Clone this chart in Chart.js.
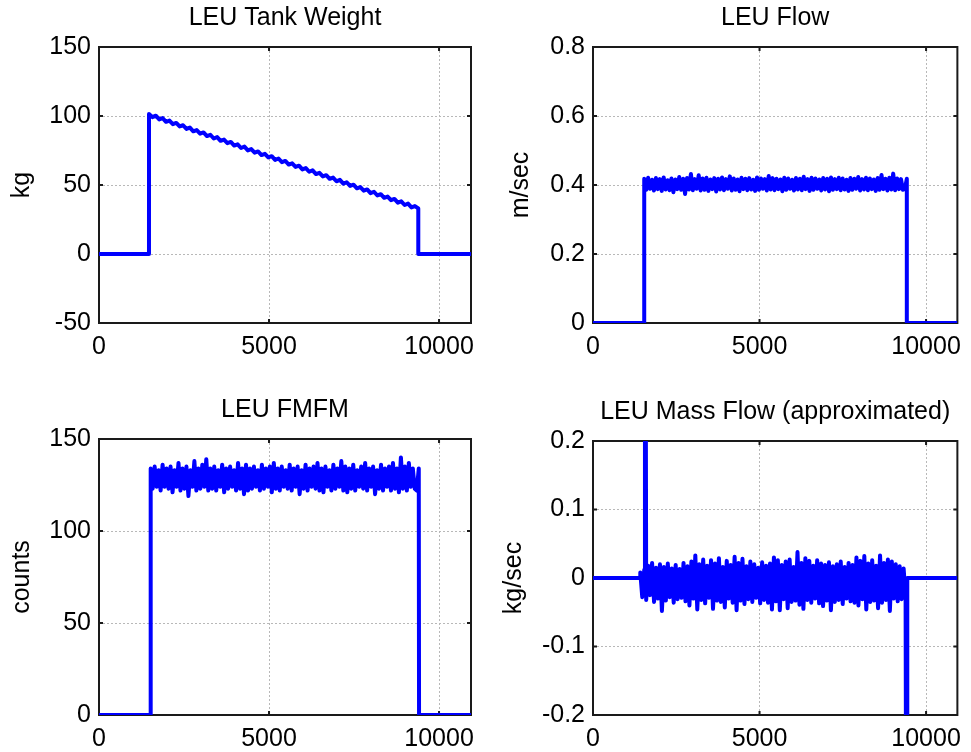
<!DOCTYPE html>
<html>
<head>
<meta charset="utf-8">
<script src="https://cdn.jsdelivr.net/npm/chart.js@4.4.0/dist/chart.umd.min.js"></script>
<style>
  body { margin: 0; background: #fff; }
  canvas { position: absolute; }
</style>
</head>
<body>
<canvas id="tank" width="486" height="376" style="left:0;top:0"></canvas>
<canvas id="flow" width="485" height="376" style="left:486px;top:0"></canvas>
<canvas id="fmfm" width="486" height="376" style="left:0;top:376px"></canvas>
<canvas id="mass" width="485" height="376" style="left:486px;top:376px"></canvas>
<script>
// shared time axis
const xMax = 10940;
const xTicks = [0, 5000, 10000];

// LEU Tank Weight (kg)
const tankTicks = [-50, 0, 50, 100, 150];
const tankOn = 1470, tankOff = 9390, tankStep = 100.25;
const tankWeight = [
  101.5, 99.2, 100.2, 97.5, 98.5, 95.8, 96.7, 94.1, 95.0, 92.4,
  93.3, 90.6, 91.6, 88.9, 89.8, 87.2, 88.1, 85.5, 86.4, 83.7,
  84.7, 82.0, 82.9, 80.3, 81.2, 78.6, 79.5, 76.8, 77.8, 75.1,
  76.0, 73.4, 74.3, 71.7, 72.6, 70.0, 70.9, 68.2, 69.2, 66.5,
  67.4, 64.8, 65.7, 63.1, 64.0, 61.3, 62.3, 59.6, 60.6, 57.9,
  58.8, 56.2, 57.1, 54.5, 55.4, 52.7, 53.7, 51.0, 52.0, 49.3,
  50.2, 47.6, 48.5, 45.9, 46.8, 44.1, 45.1, 42.4, 43.3, 40.7,
  41.6, 39.0, 39.9, 37.2, 38.2, 35.5, 36.5, 33.8, 34.7, 33.0
];

// LEU Flow (m/sec)
const flowTicks = [0, 0.2, 0.4, 0.6, 0.8];
const flowOn = 1538, flowOff = 9422, flowStep = 58.4;
const flow = [
  0.418,0.386,0.421,0.389,0.415,0.384,0.420,0.388,0.417,0.383,
  0.422,0.387,0.414,0.385,0.419,0.379,0.416,0.388,0.423,0.386,
  0.418,0.374,0.420,0.387,0.432,0.385,0.417,0.389,0.428,0.384,
  0.419,0.386,0.421,0.383,0.416,0.388,0.420,0.381,0.418,0.387,
  0.422,0.385,0.417,0.389,0.425,0.384,0.419,0.386,0.416,0.382,
  0.421,0.388,0.418,0.385,0.420,0.387,0.415,0.383,0.422,0.386,
  0.419,0.389,0.417,0.384,0.426,0.387,0.420,0.385,0.418,0.388,
  0.416,0.382,0.421,0.386,0.419,0.389,0.415,0.384,0.420,0.387,
  0.418,0.385,0.424,0.388,0.417,0.383,0.421,0.386,0.419,0.389,
  0.416,0.384,0.420,0.387,0.418,0.382,0.422,0.386,0.417,0.388,
  0.421,0.385,0.419,0.387,0.415,0.383,0.420,0.386,0.418,0.389,
  0.423,0.384,0.417,0.387,0.421,0.385,0.419,0.388,0.416,0.383,
  0.420,0.386,0.429,0.388,0.418,0.384,0.421,0.387,0.433,0.385,
  0.419,0.388,0.417,0.386,0.389,0.418
];

// LEU FMFM (counts)
const fmfmTicks = [0, 50, 100, 150];
const fmfmOn = 1520, fmfmOff = 9412, fmfmStep = 58.4;
const fmfm = [
  134,123,135,124,133,122,136,124,134,123,
  135,121,133,124,137,122,134,123,135,119,
  133,124,138,122,134,123,136,124,139,122,
  134,123,135,122,133,124,136,121,134,123,
  135,124,133,122,137,123,134,120,136,122,
  134,123,135,124,133,122,136,123,134,124,
  135,121,137,123,134,122,135,124,133,123,
  136,122,134,124,135,120,133,123,136,122,
  134,124,135,123,137,122,134,121,135,124,
  133,122,136,123,134,124,138,122,135,121,
  134,123,136,122,133,124,135,123,137,122,
  134,124,135,120,133,123,136,122,134,124,
  135,122,137,123,134,121,140,123,135,122,
  137,124,134,123,122,134
];

// LEU Mass Flow approximated (kg/sec)
const massTicks = [-0.2, -0.1, 0, 0.1, 0.2];
const massOn = 1420, massOff = 9436, massStep = 59;
const massSpikeX = [1560, 9430];
const massSpikeY = [0.9, -0.9];
const massFlow = [
  0.008,-0.028,0.012,-0.032,0.018,-0.025,0.022,-0.035,0.015,-0.030,
  0.020,-0.048,0.016,-0.033,0.021,-0.028,0.014,-0.036,0.019,-0.031,
  0.013,-0.029,0.022,-0.034,0.017,-0.040,0.024,-0.030,0.033,-0.046,
  0.020,-0.032,0.027,-0.037,0.018,-0.029,0.026,-0.045,0.021,-0.033,
  0.029,-0.035,0.016,-0.043,0.025,-0.030,0.019,-0.036,0.031,-0.047,
  0.022,-0.033,0.028,-0.038,0.017,-0.031,0.024,-0.035,0.020,-0.029,
  0.015,-0.037,0.023,-0.032,0.018,-0.036,0.021,-0.046,0.030,-0.034,
  0.026,-0.047,0.019,-0.031,0.024,-0.044,0.027,-0.035,0.016,-0.033,
  0.038,-0.039,0.022,-0.045,0.029,-0.032,0.025,-0.036,0.018,-0.030,
  0.026,-0.037,0.021,-0.041,0.019,-0.033,0.023,-0.047,0.017,-0.035,
  0.020,-0.032,0.024,-0.038,0.016,-0.030,0.022,-0.034,0.019,-0.036,
  0.030,-0.040,0.025,-0.031,0.032,-0.046,0.021,-0.035,0.026,-0.033,
  0.018,-0.044,0.033,-0.036,0.022,-0.032,0.027,-0.048,0.024,-0.030,
  0.020,-0.034,0.017,-0.031,0.014,-0.028
];

Chart.defaults.font.family = "'Liberation Sans', Arial, sans-serif";
Chart.defaults.font.size = 25;
Chart.defaults.color = '#000';

// samples -> {x,y}, with zero before switch-on and after switch-off
function pulse(on, off, step, values) {
  const pts = values.map((v, i) => ({ x: on + i * step, y: v }));
  return [{ x: 0, y: 0 }, { x: on, y: 0 }, ...pts, { x: off, y: 0 }, { x: xMax, y: 0 }];
}

// matlab style box with inward ticks, drawn under the data
const boxPlugin = {
  id: 'box',
  beforeDatasetsDraw(chart) {
    const { ctx, chartArea: a, scales: { x, y } } = chart;
    ctx.save();
    ctx.strokeStyle = '#1a1a1a';
    ctx.lineWidth = 2;
    ctx.strokeRect(a.left, a.top, a.right - a.left, a.bottom - a.top);
    ctx.beginPath();
    x.ticks.forEach(t => {
      const px = x.getPixelForValue(t.value);
      ctx.moveTo(px, a.bottom); ctx.lineTo(px, a.bottom - 4);
      ctx.moveTo(px, a.top); ctx.lineTo(px, a.top + 4);
    });
    y.ticks.forEach(t => {
      const py = y.getPixelForValue(t.value);
      ctx.moveTo(a.left, py); ctx.lineTo(a.left + 4, py);
      ctx.moveTo(a.right, py); ctx.lineTo(a.right - 4, py);
    });
    ctx.stroke();
    ctx.restore();
  }
};

function makeChart(id, opts) {
  const grid = { color: '#b8b8b8', lineWidth: 1, drawTicks: false };
  const border = { display: false, dash: [2, 2] };
  return new Chart(document.getElementById(id), {
    type: 'line',
    data: {
      datasets: [{
        data: opts.points,
        borderColor: '#0000ff',
        borderWidth: 4,
        borderJoinStyle: 'round',
        pointRadius: 0,
        tension: 0,
        clip: opts.clip
      }]
    },
    options: {
      responsive: false,
      animation: false,
      layout: { padding: { left: 0, right: opts.padRight, top: 0, bottom: 0 } },
      plugins: {
        legend: { display: false },
        tooltip: { enabled: false },
        title: {
          display: true,
          text: opts.title,
          fullSize: false,
          color: '#000',
          font: { size: 25, weight: 'normal' },
          padding: opts.titlePad
        }
      },
      scales: {
        x: {
          type: 'linear',
          min: 0,
          max: xMax,
          grid, border,
          ticks: { padding: 9, maxRotation: 0, callback: v => String(v) },
          afterBuildTicks: s => { s.ticks = xTicks.map(v => ({ value: v })); },
          afterFit: s => { s.height = opts.xHeight; }
        },
        y: {
          min: opts.yTicks[0],
          max: opts.yTicks[opts.yTicks.length - 1],
          grid, border,
          ticks: { padding: 8, callback: v => String(v) },
          afterBuildTicks: s => { s.ticks = opts.yTicks.map(v => ({ value: v })); },
          afterFit: s => { s.width = opts.yWidth; },
          title: {
            display: true,
            text: opts.yLabel,
            color: '#000',
            font: { size: 25 },
            padding: { top: opts.yTitlePad, bottom: 0 }
          }
        }
      }
    },
    plugins: [boxPlugin]
  });
}

makeChart('tank', {
  title: 'LEU Tank Weight', yLabel: 'kg', yTicks: tankTicks,
  points: pulse(tankOn, tankOff, tankStep, tankWeight),
  titlePad: { top: 3, bottom: 14 }, yTitlePad: 7, yWidth: 99, xHeight: 53, padRight: 15
});

makeChart('flow', {
  title: 'LEU Flow', yLabel: 'm/sec', yTicks: flowTicks,
  points: pulse(flowOn, flowOff, flowStep, flow),
  titlePad: { top: 3, bottom: 14 }, yTitlePad: 20, yWidth: 107, xHeight: 53, padRight: 6
});

makeChart('fmfm', {
  title: 'LEU FMFM', yLabel: 'counts', yTicks: fmfmTicks,
  points: pulse(fmfmOn, fmfmOff, fmfmStep, fmfm),
  titlePad: { top: 19, bottom: 14 }, yTitlePad: 7, yWidth: 99, xHeight: 37, padRight: 15
});

const massPoints = pulse(massOn, massOff, massStep, massFlow)
  .concat(massSpikeX.map((x, i) => ({ x, y: massSpikeY[i] })))
  .sort((a, b) => a.x - b.x);

makeChart('mass', {
  title: 'LEU Mass Flow (approximated)', yLabel: 'kg/sec', yTicks: massTicks,
  points: massPoints, clip: 0,
  titlePad: { top: 21, bottom: 14 }, yTitlePad: 13, yWidth: 107, xHeight: 37, padRight: 6
});
</script>
</body>
</html>
